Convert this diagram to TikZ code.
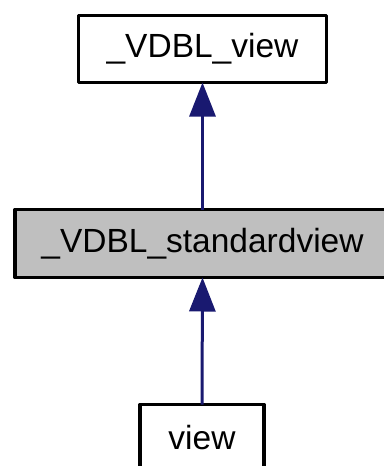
\documentclass[tikz,border=0pt]{standalone}
\usepackage{fontspec}
\setmainfont{Liberation Sans}
\usetikzlibrary{arrows.meta}
\definecolor{edgeblue}{HTML}{191970}
\definecolor{boxgray}{HTML}{BFBFBF}
\tikzset{
  classbox/.style={draw=black, line width=3.3pt, line join=round, inner sep=0pt, outer sep=0pt,
    font=\fontsize{33.5}{40}\selectfont, anchor=center},
  inherit/.style={draw=edgeblue, line width=3pt, -{Triangle[length=34pt,width=26pt]}, color=edgeblue}
}
\begin{document}
\begin{tikzpicture}[x=1pt,y=-1pt]
\useasboundingbox (0,0) rectangle (383,466);
\node[classbox, minimum width=248pt, minimum height=67pt] (top) at (202.5,49) {\_VDBL\_view};
\node[classbox, fill=boxgray, minimum width=375pt, minimum height=68pt] (mid) at (202.5,243.5) {\_VDBL\_standardview};
\node[classbox, minimum width=124pt, minimum height=67pt] (bot) at (202,438) {view};
\draw[inherit] (mid.north) -- (top.south);
\draw[inherit] (bot.north) -- (mid.south);
\end{tikzpicture}
\end{document}
